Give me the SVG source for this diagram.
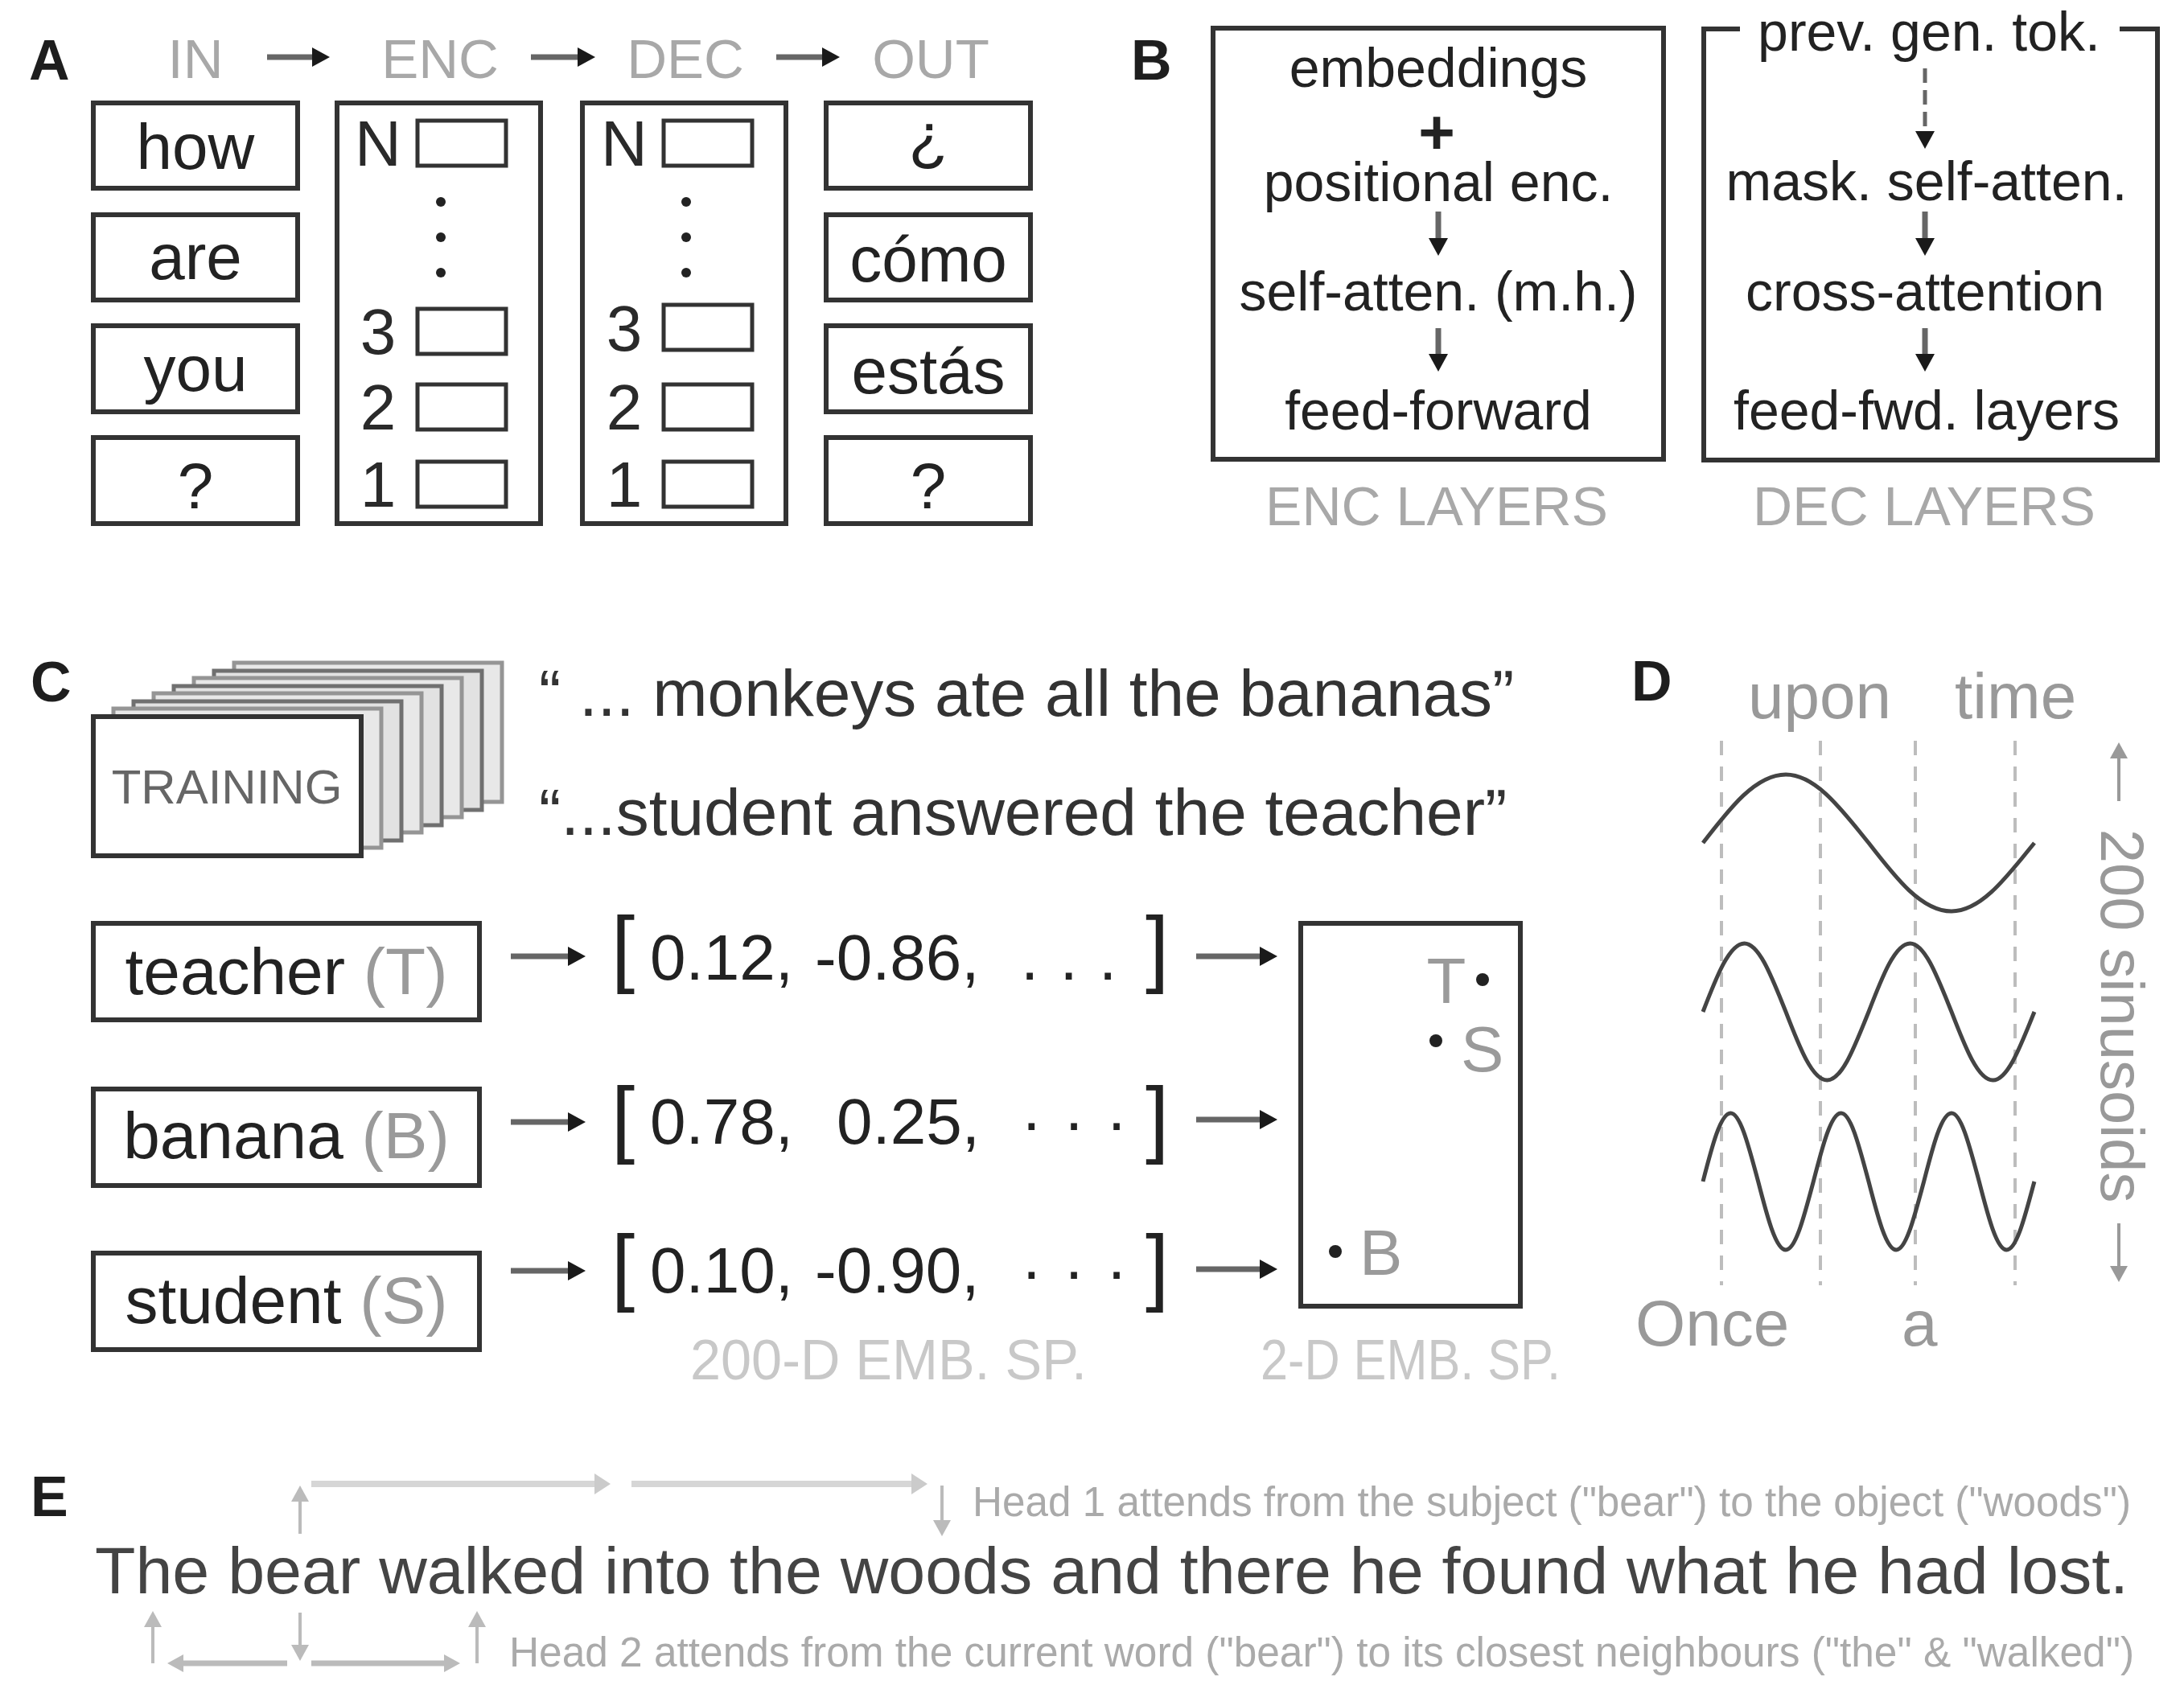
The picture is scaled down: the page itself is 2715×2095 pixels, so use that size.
<svg xmlns="http://www.w3.org/2000/svg" width="2715" height="2095" viewBox="0 0 2715 2095">
<defs>
<style>
text{font-family:"Liberation Sans",Arial,Helvetica,sans-serif}
.lbl{font-size:70px;font-weight:bold;fill:#1e1e1e}
.hdr{font-size:69px;fill:#a8a8a8;text-anchor:middle}
.word{font-size:80px;fill:#222;text-anchor:middle}
.num{font-size:80px;fill:#2a2a2a;text-anchor:middle}
.box{fill:#fff;stroke:#333;stroke-width:6}
.sbox{fill:#fff;stroke:#333;stroke-width:5}
.dot{fill:#222}
.btxt{font-size:68px;fill:#222;text-anchor:middle}
.bcap{font-size:68px;fill:#a8a8a8;text-anchor:middle}
.qt{font-size:82px;fill:#333}
.wtxt{font-size:82px;fill:#222;text-anchor:middle}
.gry{fill:#9a9a9a}
.vec{font-size:80px;fill:#222}
.brk{font-size:105px;fill:#222}
.pt{font-size:80px;fill:#9a9a9a}
.emb{font-size:70px;fill:#c8c8c8}
.dtxt{font-size:80px;fill:#999}
.wave{fill:none;stroke:#444;stroke-width:5}
.grid{stroke:#bdbdbd;stroke-width:4;stroke-dasharray:18 14}
.sent{font-size:82px;fill:#444}
.head{font-size:51px;fill:#aaa}
.ar{stroke:#666;stroke-width:7;fill:none;marker-end:url(#mDark)}
.arD{stroke:#666;stroke-width:5;fill:none;stroke-dasharray:18 9;marker-end:url(#mDark)}
.arG{stroke:#999;stroke-width:4;fill:none;marker-end:url(#mMid)}
.arE{stroke:#bbb;stroke-width:4;fill:none;marker-end:url(#mGray)}
.arEh{stroke:#bbb;stroke-width:7;fill:none;marker-end:url(#mGray)}
.arL{stroke:#d6d6d6;stroke-width:8;fill:none;marker-end:url(#mLight)}
.page{fill:#e2e2e2;stroke:#707070;stroke-width:5}
.page2{fill:#e8e8e8;stroke:#959595;stroke-width:5}
</style>
<marker id="mDark" viewBox="0 0 22 24" refX="4" refY="12" markerWidth="22" markerHeight="24" orient="auto" markerUnits="userSpaceOnUse"><path d="M0,0 L22,12 L0,24 z" fill="#1a1a1a"/></marker>
<marker id="mMid" viewBox="0 0 20 22" refX="4" refY="11" markerWidth="20" markerHeight="22" orient="auto" markerUnits="userSpaceOnUse"><path d="M0,0 L20,11 L0,22 z" fill="#999"/></marker>
<marker id="mGray" viewBox="0 0 20 22" refX="4" refY="11" markerWidth="20" markerHeight="22" orient="auto" markerUnits="userSpaceOnUse"><path d="M0,0 L20,11 L0,22 z" fill="#bbb"/></marker>
<marker id="mLight" viewBox="0 0 20 26" refX="4" refY="13" markerWidth="20" markerHeight="26" orient="auto" markerUnits="userSpaceOnUse"><path d="M0,0 L20,13 L0,26 z" fill="#cbcbcb"/></marker>
</defs>
<rect x="0" y="0" width="2715" height="2095" fill="#fff"/>

<!-- Panel labels -->
<g id="labels">
<text class="lbl" x="36" y="99">A</text>
<text class="lbl" x="1406" y="99">B</text>
<text class="lbl" x="38" y="872">C</text>
<text class="lbl" x="2028" y="871">D</text>
<text class="lbl" x="38" y="1885">E</text>
</g>

<!-- Panel A -->
<g id="a-header">
<text class="hdr" x="243" y="97">IN</text>
<text class="hdr" x="547" y="97">ENC</text>
<text class="hdr" x="852" y="97">DEC</text>
<text class="hdr" x="1157" y="97">OUT</text>
</g>
<g id="a-in">
<g id="in-how"><rect class="box" x="116" y="128" width="254" height="106"/><text class="word" x="243" y="210">how</text></g>
<g id="in-are"><rect class="box" x="116" y="267" width="254" height="106"/><text class="word" x="243" y="347">are</text></g>
<g id="in-you"><rect class="box" x="116" y="405" width="254" height="107"/><text class="word" x="243" y="486">you</text></g>
<g id="in-q"><rect class="box" x="116" y="544" width="254" height="107"/><text class="word" x="243" y="632">?</text></g>
</g>
<g id="a-enc">
<rect class="box" x="419" y="128" width="253" height="523"/>
<text class="num" x="470" y="206">N</text>
<rect class="sbox" x="519" y="150" width="110" height="56"/>
<circle class="dot" cx="548" cy="251" r="6"/><circle class="dot" cx="548" cy="295" r="6"/><circle class="dot" cx="548" cy="339" r="6"/>
<text class="num" x="470" y="440">3</text>
<rect class="sbox" x="519" y="384" width="110" height="56"/>
<text class="num" x="470" y="534">2</text>
<rect class="sbox" x="519" y="478" width="110" height="56"/>
<text class="num" x="470" y="630">1</text>
<rect class="sbox" x="519" y="574" width="110" height="56"/>
</g>
<g id="a-dec">
<rect class="box" x="724" y="128" width="253" height="523"/>
<text class="num" x="776" y="206">N</text>
<rect class="sbox" x="825" y="150" width="110" height="56"/>
<circle class="dot" cx="853" cy="251" r="6"/><circle class="dot" cx="853" cy="295" r="6"/><circle class="dot" cx="853" cy="339" r="6"/>
<text class="num" x="776" y="436">3</text>
<rect class="sbox" x="825" y="379" width="110" height="56"/>
<text class="num" x="776" y="534">2</text>
<rect class="sbox" x="825" y="478" width="110" height="56"/>
<text class="num" x="776" y="630">1</text>
<rect class="sbox" x="825" y="574" width="110" height="56"/>
</g>
<g id="a-out">
<g id="out-q1"><rect class="box" x="1027" y="128" width="254" height="106"/><text class="word" x="1154" y="196">¿</text></g>
<g id="out-como"><rect class="box" x="1027" y="267" width="254" height="106"/><text class="word" x="1154" y="350">cómo</text></g>
<g id="out-estas"><rect class="box" x="1027" y="405" width="254" height="107"/><text class="word" x="1154" y="489">estás</text></g>
<g id="out-q2"><rect class="box" x="1027" y="544" width="254" height="107"/><text class="word" x="1154" y="632">?</text></g>
</g>

<!-- Panel B -->
<g id="b-enc">
<rect class="box" x="1508" y="35" width="560" height="536"/>
<text class="btxt" x="1788" y="108">embeddings</text>
<text class="btxt" x="1786" y="191" style="font-size:78px;font-weight:bold">+</text>
<text class="btxt" x="1788" y="250">positional enc.</text>
<text class="btxt" x="1788" y="386">self-atten. (m.h.)</text>
<text class="btxt" x="1788" y="534">feed-forward</text>
<text class="bcap" x="1786" y="653">ENC LAYERS</text>
</g>
<g id="b-dec">
<path d="M2163,36 H2118 V572 H2682 V36 H2635" fill="none" stroke="#333" stroke-width="6"/>
<text class="btxt" x="2398" y="63">prev. gen. tok.</text>
<text class="btxt" x="2395" y="249">mask. self-atten.</text>
<text class="btxt" x="2393" y="386">cross-attention</text>
<text class="btxt" x="2395" y="534">feed-fwd. layers</text>
<text class="bcap" x="2392" y="653">DEC LAYERS</text>
</g>

<!-- Panel C -->
<g id="c-training">
<rect class="page2" x="291" y="824" width="333" height="173"/>
<rect class="page" x="266" y="834" width="333" height="173"/>
<rect class="page2" x="241" y="843" width="333" height="173"/>
<rect class="page" x="216" y="853" width="333" height="173"/>
<rect class="page2" x="191" y="862" width="333" height="173"/>
<rect class="page" x="166" y="872" width="333" height="173"/>
<rect class="page2" x="141" y="881" width="333" height="173"/>
<rect class="box" x="116" y="891" width="333" height="173"/>
<text x="282" y="999" style="font-size:60px;fill:#666;text-anchor:middle">TRAINING</text>
</g>
<g id="c-quotes">
<text class="qt" x="670" y="890">“ ... monkeys ate all the bananas”</text>
<text class="qt" x="670" y="1038">“...student answered the teacher”</text>
</g>
<g id="c-teacher"><rect class="box" x="116" y="1148" width="480" height="120"/><text class="wtxt" x="356" y="1236">teacher <tspan class="gry">(T)</tspan></text></g>
<g id="c-banana"><rect class="box" x="116" y="1354" width="480" height="120"/><text class="wtxt" x="356" y="1440">banana <tspan class="gry">(B)</tspan></text></g>
<g id="c-student"><rect class="box" x="116" y="1558" width="480" height="120"/><text class="wtxt" x="356" y="1645">student <tspan class="gry">(S)</tspan></text></g>
<g id="c-vec1">
<text class="brk" x="760" y="1214">[</text>
<text class="vec" y="1218"><tspan x="808">0.12,</tspan><tspan x="1013">-0.86,</tspan><tspan x="1269" letter-spacing="2">. . .</tspan></text>
<text class="brk" x="1424" y="1214">]</text>
</g>
<g id="c-vec2">
<text class="brk" x="760" y="1426">[</text>
<text class="vec" y="1422"><tspan x="808">0.78,</tspan><tspan x="1040">0.25,</tspan><tspan x="1269" letter-spacing="2">· · ·</tspan></text>
<text class="brk" x="1424" y="1426">]</text>
</g>
<g id="c-vec3">
<text class="brk" x="760" y="1610">[</text>
<text class="vec" y="1607"><tspan x="808">0.10,</tspan><tspan x="1013">-0.90,</tspan><tspan x="1269" letter-spacing="2">· · ·</tspan></text>
<text class="brk" x="1424" y="1610">]</text>
</g>
<g id="c-2d">
<rect class="box" x="1617" y="1148" width="273" height="476"/>
<text class="pt" x="1798" y="1247" text-anchor="middle">T</text>
<circle class="dot" cx="1843" cy="1218" r="8"/>
<circle class="dot" cx="1785" cy="1294" r="8"/>
<text class="pt" x="1816" y="1332">S</text>
<circle class="dot" cx="1660" cy="1556" r="8"/>
<text class="pt" x="1690" y="1585">B</text>
</g>
<g id="c-captions">
<text class="emb" x="858" y="1715" textLength="493" lengthAdjust="spacingAndGlyphs">200-D EMB. SP.</text>
<text class="emb" x="1567" y="1715" textLength="373" lengthAdjust="spacingAndGlyphs">2-D EMB. SP.</text>
</g>

<!-- Panel D -->
<g id="d-words">
<text class="dtxt" x="2173" y="893">upon</text>
<text class="dtxt" x="2430" y="893">time</text>
<text class="dtxt" x="2033" y="1673">Once</text>
<text class="dtxt" x="2364" y="1673">a</text>
</g>
<g id="d-grid">
<line class="grid" x1="2140" y1="921" x2="2140" y2="1598"/>
<line class="grid" x1="2263" y1="921" x2="2263" y2="1598"/>
<line class="grid" x1="2381" y1="921" x2="2381" y2="1598"/>
<line class="grid" x1="2505" y1="921" x2="2505" y2="1598"/>
</g>
<g id="d-waves">
<path class="wave" d="M2117,1048 c33.59,-43.55 65.72,-85 103,-85 c37.28,0 69.41,43.55 103,85 c33.59,43.55 65.72,85 103,85 c37.28,0 69.41,-43.55 103,-85"/>
<path class="wave" d="M2117,1258 c16.79,-43.55 32.86,-85 51.5,-85 c18.64,0 34.71,43.55 51.5,85 c16.79,43.55 32.86,85 51.5,85 c18.64,0 34.71,-43.55 51.5,-85 c16.79,-43.55 32.86,-85 51.5,-85 c18.64,0 34.71,43.55 51.5,85 c16.79,43.55 32.86,85 51.5,85 c18.64,0 34.71,-43.55 51.5,-85"/>
<path class="wave" d="M2117,1469 c11.2,-43.55 21.91,-85 34.33,-85 c12.43,0 23.14,43.55 34.33,85 c11.2,43.55 21.91,85 34.33,85 c12.43,0 23.14,-43.55 34.33,-85 c11.2,-43.55 21.91,-85 34.33,-85 c12.43,0 23.14,43.55 34.33,85 c11.2,43.55 21.91,85 34.33,85 c12.43,0 23.14,-43.55 34.33,-85 c11.2,-43.55 21.91,-85 34.33,-85 c12.43,0 23.14,43.55 34.33,85 c11.2,43.55 21.91,85 34.33,85 c12.43,0 23.14,-43.55 34.33,-85"/>
</g>
<g id="d-axis">
<text transform="translate(2612,1263) rotate(90)" style="font-size:76px;fill:#999;text-anchor:middle">200 sinusoids</text>
</g>

<!-- Panel E -->
<g id="e-sentence">
<text class="sent" x="118" y="1981" textLength="2528" lengthAdjust="spacingAndGlyphs">The bear walked into the woods and there he found what he had lost.</text>
<text class="head" x="1209" y="1885" textLength="1440" lengthAdjust="spacingAndGlyphs">Head 1 attends from the subject ("bear") to the object ("woods")</text>
<text class="head" x="633" y="2072" textLength="2020" lengthAdjust="spacingAndGlyphs">Head 2 attends from the current word ("bear") to its closest neighbours ("the" &amp; "walked")</text>
</g>

<!-- Connectors -->
<g id="connectors">
<line class="ar" x1="332" y1="71" x2="392" y2="71"/>
<line class="ar" x1="660" y1="71" x2="722" y2="71"/>
<line class="ar" x1="965" y1="71" x2="1026" y2="71"/>
<line class="ar" x1="1788" y1="263" x2="1788" y2="300"/>
<line class="ar" x1="1788" y1="408" x2="1788" y2="444"/>
<line class="arD" x1="2393" y1="85" x2="2393" y2="167"/>
<line class="ar" x1="2393" y1="263" x2="2393" y2="300"/>
<line class="ar" x1="2393" y1="408" x2="2393" y2="444"/>
<line class="ar" x1="635" y1="1189" x2="710" y2="1189"/>
<line class="ar" x1="635" y1="1395" x2="710" y2="1395"/>
<line class="ar" x1="635" y1="1580" x2="710" y2="1580"/>
<line class="ar" x1="1487" y1="1189" x2="1570" y2="1189"/>
<line class="ar" x1="1487" y1="1392" x2="1570" y2="1392"/>
<line class="ar" x1="1487" y1="1578" x2="1570" y2="1578"/>
<line class="arG" x1="2634" y1="996" x2="2634" y2="939"/>
<line class="arG" x1="2634" y1="1521" x2="2634" y2="1578"/>
<line class="arE" x1="373" y1="1907" x2="373" y2="1863"/>
<line class="arL" x1="387" y1="1845" x2="743" y2="1845"/>
<line class="arL" x1="785" y1="1845" x2="1137" y2="1845"/>
<line class="arE" x1="1171" y1="1847" x2="1171" y2="1894"/>
<line class="arE" x1="190" y1="2068" x2="190" y2="2019"/>
<line class="arEh" x1="357" y1="2068" x2="224" y2="2068"/>
<line class="arE" x1="373" y1="2005" x2="373" y2="2049"/>
<line class="arEh" x1="387" y1="2068" x2="556" y2="2068"/>
<line class="arE" x1="593" y1="2068" x2="593" y2="2019"/>
</g>
</svg>
